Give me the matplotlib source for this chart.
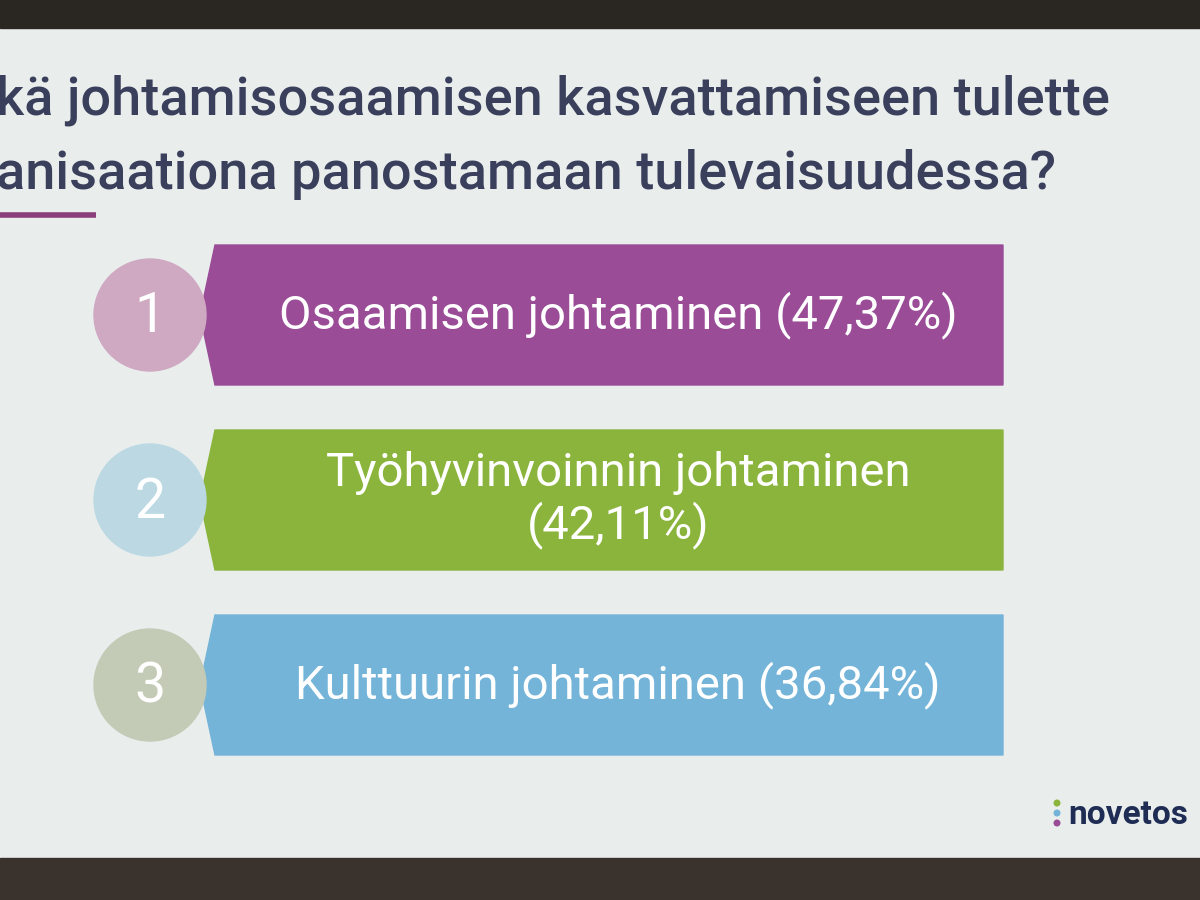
import matplotlib
matplotlib.use("Agg")
import matplotlib.pyplot as plt
from matplotlib.patches import Polygon, Circle, Rectangle

categories = ["Osaamisen johtaminen", "Työhyvinvoinnin johtaminen", "Kulttuurin johtaminen"]
values = [47.37, 42.11, 36.84]
ranks = ["1", "2", "3"]
title_lines = ["kä johtamisosaamisen kasvattamiseen tulette", "anisaationa panostamaan tulevaisuudessa?"]

bar_colors = ["#9a4c97", "#8bb43c", "#74b4d8"]
circle_colors = ["#cfa9c2", "#bcd9e3", "#c3cbb6"]
wrap = [False, True, False]

fig = plt.figure(figsize=(12, 9), dpi=100)
ax = fig.add_axes([0, 0, 1, 1])
ax.set_xlim(0, 1200)
ax.set_ylim(900, 0)
ax.axis("off")
fig.patch.set_facecolor("#e9eeed")

ax.add_patch(Rectangle((0, 0), 1200, 28, color="#2a2622"))
ax.add_patch(Rectangle((0, 858), 1200, 42, color="#3a322c"))

for i, line in enumerate(title_lines):
    ax.text(-4, 100 + i * 75, line, fontsize=39, color="#3a3f5c", va="center", ha="left",
            family="Roboto", fontweight="medium")
ax.plot([0, 96], [215, 215], color="#8a3f7a", lw=4, solid_capstyle="butt")

tops = [245, 430, 615]
h = 140
for i, (cat, val) in enumerate(zip(categories, values)):
    y0 = tops[i]
    poly = Polygon([(215, y0), (1003, y0), (1003, y0 + h), (215, y0 + h), (200, y0 + h / 2)],
                   closed=True, color=bar_colors[i])
    ax.add_patch(poly)
    ax.add_patch(Circle((150, y0 + h / 2), 56, color=circle_colors[i]))
    ax.text(150, y0 + h / 2 + 2, ranks[i], fontsize=40, color="white", ha="center", va="center", family="Roboto")
    label = f"{cat} ({val:.2f}%)".replace(".", ",")
    if wrap[i]:
        label = f"{cat}\n({val:.2f}%)".replace(".", ",")
    ax.text(618, y0 + h / 2, label, fontsize=34, color="white", ha="center", va="center",
            family="Roboto", linespacing=1.15)

ax.text(1068, 815, "novetos", fontsize=24, color="#1f2d55", fontweight="bold", ha="left", va="center", family="Roboto")
for k, c in enumerate(["#8bb43c", "#74b4d8", "#9a4c97"]):
    ax.add_patch(Circle((1057, 803 + k * 10), 2.8, color=c))

fig.savefig("out.png", dpi=100)
